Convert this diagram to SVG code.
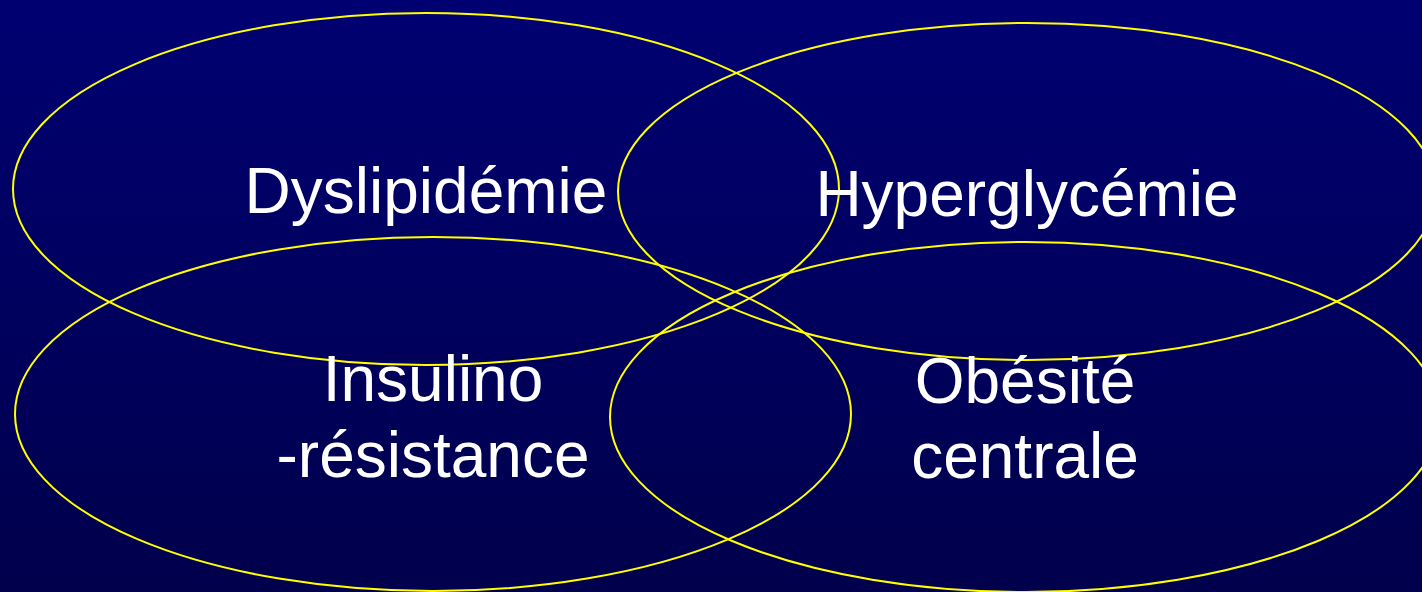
<svg xmlns="http://www.w3.org/2000/svg" width="1422" height="592" viewBox="0 0 1422 592">
<defs>
<linearGradient id="bg" x1="0" y1="0" x2="0" y2="1">
<stop offset="0" stop-color="#000072"/>
<stop offset="1" stop-color="#00004C"/>
</linearGradient>
</defs>
<style>
.ring{fill:none;stroke:#FFFF00;stroke-width:2}
.lbl{font-family:"Liberation Sans",Arial,sans-serif;font-size:64px;fill:#FFFFFF;text-anchor:middle}
</style>
<rect x="0" y="0" width="1422" height="592" fill="url(#bg)"/>
<g id="connectors"></g>
<g id="dyslipidemie">
<ellipse class="ring" cx="426" cy="189" rx="413" ry="176"/>
<text class="lbl" x="426" y="213">Dyslipidémie</text>
</g>
<g id="hyperglycemie">
<ellipse class="ring" cx="1027" cy="191.5" rx="409" ry="168.5"/>
<text class="lbl" x="1027" y="216">Hyperglycémie</text>
</g>
<g id="insulino">
<ellipse class="ring" cx="433" cy="414" rx="418" ry="177"/>
<text class="lbl" x="433" y="401">Insulino</text>
<text class="lbl" x="433" y="477">-résistance</text>
</g>
<g id="obesite">
<ellipse class="ring" cx="1025" cy="417" rx="415" ry="175"/>
<text class="lbl" x="1025" y="403">Obésité</text>
<text class="lbl" x="1025" y="478">centrale</text>
</g>
</svg>
